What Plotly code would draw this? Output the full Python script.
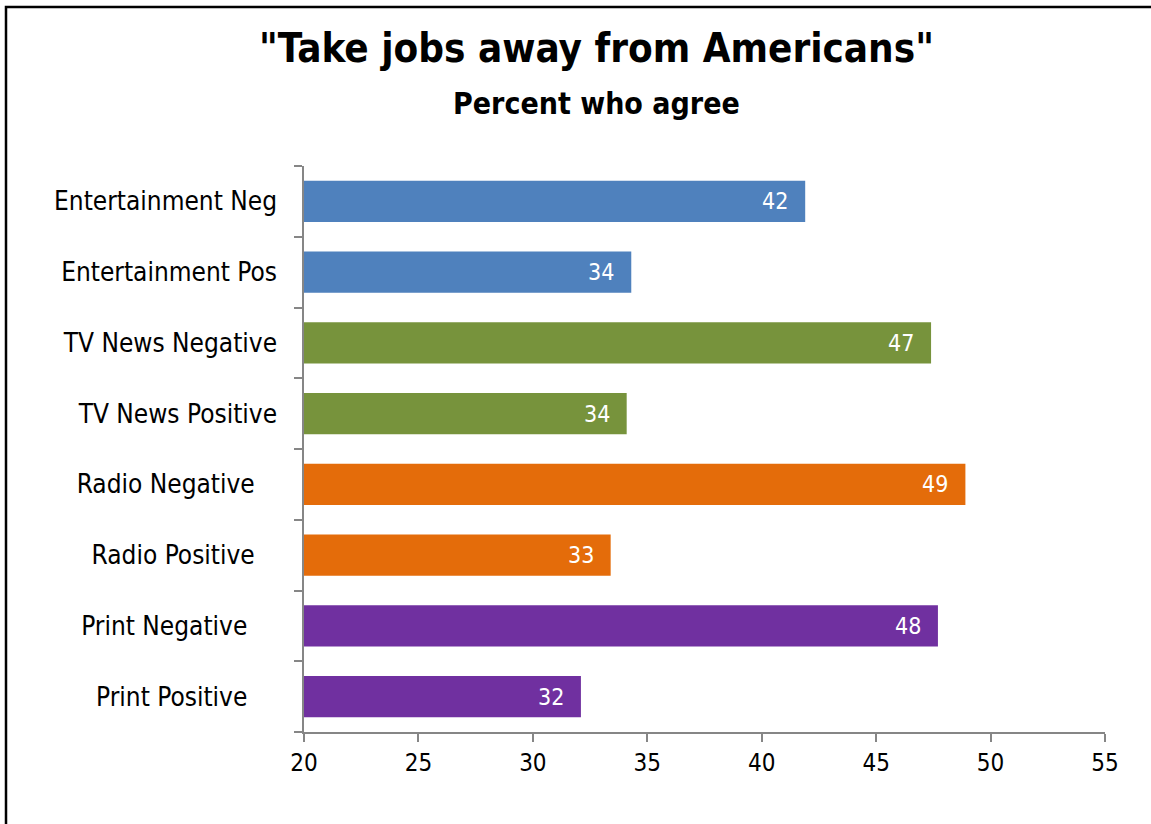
import plotly.graph_objects as go

categories = ["Entertainment Neg", "Entertainment Pos", "TV News Negative", "TV News Positive",
              "Radio Negative", "Radio Positive", "Print Negative", "Print Positive"]
values = [41.9, 34.3, 47.4, 34.1, 48.9, 33.4, 47.7, 32.1]
labels = ["42", "34", "47", "34", "49", "33", "48", "32"]
colors = ["#4F81BD", "#4F81BD", "#77933C", "#77933C", "#E46C0A", "#E46C0A", "#7030A0", "#7030A0"]
x_ticks = [20, 25, 30, 35, 40, 45, 50, 55]
# trailing blank padding after some category labels (as in the original)
label_pad = [0, 0, 0, 0, 3, 3, 4, 4]

FONT = "DejaVu Sans Condensed, DejaVu Sans, sans-serif"

W, H = 1151, 824
L, R, T, B = 304, 46, 166, 92
pw, ph = W - L - R, H - T - B

def px(xp):
    return (xp - L) / pw

def py(yp):
    return (H - B - yp) / ph

fig = go.Figure()
fig.add_trace(go.Bar(
    x=values, y=categories, orientation="h",
    marker=dict(color=colors, line=dict(width=0)),
    base=0, hoverinfo="skip",
))

for c, v, t in zip(categories, values, labels):
    fig.add_annotation(x=v, y=c, xref="x", yref="y", text=t, showarrow=False,
                       xanchor="right", xshift=-15,
                       font=dict(family=FONT, size=23, color="white"))

fig.add_annotation(x=px(596), y=py(48), xref="paper", yref="paper",
                   text="<b>\"Take jobs away from Americans\"</b>", showarrow=False,
                   xanchor="center", yanchor="middle",
                   font=dict(family=FONT, size=40, color="black"))
fig.add_annotation(x=px(596), y=py(103), xref="paper", yref="paper",
                   text="<b>Percent who agree</b>", showarrow=False,
                   xanchor="center", yanchor="middle",
                   font=dict(family=FONT, size=30, color="black"))

fig.add_shape(type="rect", xref="paper", yref="paper",
              x0=px(6), x1=px(1170), y0=py(850), y1=py(7),
              line=dict(color="black", width=2.5), fillcolor="rgba(0,0,0,0)", layer="above")

ticktext = [c + "\u00a0" * p for c, p in zip(categories, label_pad)]

fig.update_layout(
    width=W, height=H,
    margin=dict(l=L, r=R, t=T, b=B, pad=0),
    paper_bgcolor="white", plot_bgcolor="white",
    showlegend=False,
    bargap=0.42,
    font=dict(family=FONT, color="black"),
)
fig.update_xaxes(range=[20, 55], tickvals=x_ticks, ticks="outside", ticklen=8, tickcolor="#868686",
                 tickwidth=1.5, showline=True, linecolor="#868686", linewidth=1.5,
                 showgrid=False, zeroline=False, tickfont=dict(family=FONT, size=24, color="black"))
fig.update_yaxes(categoryorder="array", categoryarray=categories, autorange="reversed",
                 tickmode="array", tickvals=categories, ticktext=ticktext,
                 ticks="outside", ticklen=8, tickcolor="#868686", tickwidth=1.5, tickson="boundaries",
                 showline=True, linecolor="#868686", linewidth=1.5, showgrid=False,
                 ticklabelstandoff=20,
                 tickfont=dict(family=FONT, size=26, color="black"))

fig.write_html("out.html", config={"displayModeBar": False},
               post_script="document.body.style.margin='0';")
